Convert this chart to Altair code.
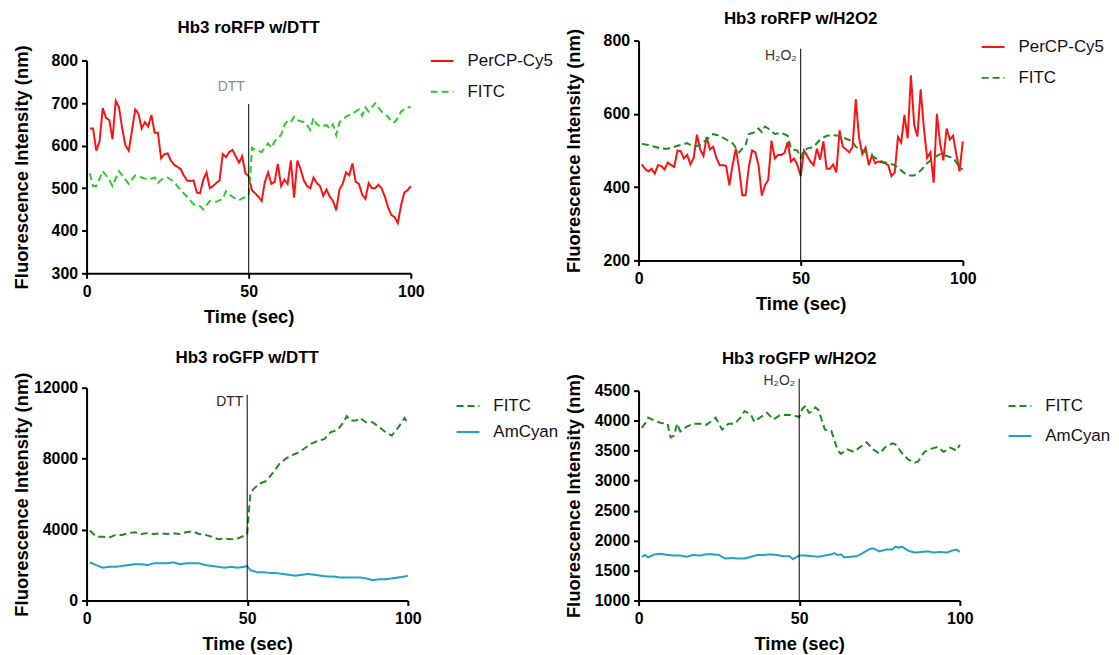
import altair as alt
import pandas as pd

FONT = "Liberation Sans"

# ---------------- data ----------------
t_full = list(range(1, 101))

# Panel 1: Hb3 roRFP w/DTT
p1_red_t = t_full
p1_red_v = [640, 640, 588, 610, 688, 665, 660, 615, 705, 690,
            640, 600, 588, 635, 685, 675, 640, 655, 645, 672,
            630, 630, 570, 580, 582, 565, 555, 550, 545, 530,
            518, 517, 518, 490, 488, 520, 537, 500, 505, 512,
            518, 580, 573, 585, 590, 575, 560, 575, 535, 528,
            495, 488, 480, 470, 515, 537, 510, 515, 557, 505,
            520, 510, 565, 478, 565, 545, 518, 505, 500, 525,
            512, 505, 482, 497, 480, 470, 448, 497, 510, 537,
            530, 558, 515, 510, 485, 475, 512, 500, 500, 508,
            500, 480, 455, 437, 432, 418, 460, 490, 495, 505]
p1_green_t = [1, 2, 3, 5, 7, 8, 10, 12, 13, 15,
              17, 19, 21, 22, 23, 25, 27, 29, 31, 33,
              35, 36, 38, 40, 42, 43, 44, 46, 47, 49,
              50, 50.5, 51, 52, 54, 56, 57, 58, 60, 61,
              62, 63, 64, 65, 67, 68, 69, 70, 71, 72,
              74, 75, 76, 77, 78, 80, 82, 84, 85, 86,
              87, 89, 90, 91, 93, 94, 95, 96, 97, 99, 100]
p1_green_v = [535, 505, 505, 540, 520, 505, 540, 520, 510, 530,
              525, 520, 525, 512, 520, 525, 515, 495, 480, 462,
              458, 450, 470, 468, 475, 493, 485, 475, 472, 480,
              485, 530, 595, 590, 585, 605, 595, 610, 625, 648,
              658, 655, 668, 660, 655, 648, 637, 665, 650, 645,
              648, 640, 650, 625, 655, 668, 675, 685, 670, 690,
              680, 700, 690, 680, 668, 655, 655, 665, 680, 690, 690]

# Panel 2: Hb3 roRFP w/H2O2
p2_red_t = t_full
p2_red_v = [462, 450, 443, 450, 437, 460, 458, 448, 467, 460,
            455, 500, 498, 478, 488, 462, 480, 543, 503, 485,
            537, 503, 510, 480, 460, 460, 458, 405, 460, 505,
            450, 378, 378, 455, 500, 495, 460, 377, 405, 420,
            527, 478, 488, 488, 493, 523, 470, 478, 460, 430,
            500, 485, 470, 460, 505, 475, 525, 450, 450, 462,
            440, 555, 510, 503, 495, 510, 640, 535, 490, 508,
            460, 487, 465, 470, 468, 465, 460, 430, 440, 537,
            522, 597, 533, 705, 570, 538, 667, 560, 480, 495,
            412, 600, 520, 473, 560, 530, 540, 490, 443, 525]
p2_green_t = [1, 3, 5, 7, 9, 11, 13, 15, 17, 19,
              21, 23, 25, 27, 29, 31, 33, 34, 36, 37,
              38, 39, 40, 42, 44, 46, 47, 49, 50, 51,
              52, 54, 56, 58, 60, 62, 64, 66, 67, 69,
              71, 73, 75, 77, 79, 81, 83, 85, 87, 89,
              91, 93, 95, 97, 99, 100]
p2_green_v = [518, 515, 510, 505, 505, 510, 515, 520, 510, 515,
              530, 545, 540, 530, 520, 495, 515, 545, 550, 560,
              550, 565, 560, 545, 548, 540, 505, 500, 480, 500,
              505, 510, 530, 540, 542, 540, 532, 525, 510, 500,
              490, 480, 470, 465, 460, 445, 432, 432, 445, 465,
              480, 490, 485, 480, 455, 448]

# Panel 3: Hb3 roGFP w/DTT
p3_fitc_t = [1, 3, 5, 7, 9, 11, 13, 15, 17, 19,
             21, 23, 25, 27, 29, 31, 33, 35, 37, 39,
             41, 43, 45, 47, 49, 50, 50.5, 51, 52, 54,
             56, 58, 60, 62, 64, 66, 68, 70, 72, 74,
             76, 78, 80, 81, 82, 84, 85, 87, 89, 91,
             93, 95, 97, 99, 100]
p3_fitc_v = [3950, 3600, 3600, 3550, 3700, 3700, 3800, 3850, 3750, 3800,
             3750, 3800, 3750, 3800, 3750, 3850, 3900, 3750, 3700, 3600,
             3450, 3500, 3450, 3500, 3650, 3750, 5000, 6000, 6300, 6600,
             6750, 7200, 7700, 8000, 8200, 8350, 8600, 8850, 9000, 9100,
             9500, 9600, 10050, 10400, 10150, 10150, 10300, 10050, 10050, 9800,
             9500, 9300, 9750, 10300, 9950]
p3_amcyan_t = [1, 3, 5, 7, 9, 11, 13, 15, 17, 19,
               21, 23, 25, 27, 29, 31, 33, 35, 37, 39,
               41, 43, 45, 47, 49, 50, 51, 53, 55, 57,
               59, 61, 63, 65, 67, 69, 71, 73, 75, 77,
               79, 81, 83, 85, 87, 89, 91, 93, 95, 97, 99, 100]
p3_amcyan_v = [2150, 2000, 1850, 1900, 1900, 1950, 2000, 2050, 2050, 2000,
               2100, 2100, 2100, 2150, 2050, 2100, 2100, 2100, 2000, 1950,
               1900, 1850, 1900, 1850, 1900, 1950, 1700, 1600, 1600, 1550,
               1550, 1500, 1450, 1400, 1450, 1500, 1450, 1400, 1350, 1350,
               1300, 1300, 1300, 1300, 1250, 1150, 1200, 1200, 1250, 1300, 1350, 1400]

# Panel 4: Hb3 roGFP w/H2O2
p4_fitc_t = [1, 2, 3, 5, 7, 9, 10, 11, 12, 13,
             15, 17, 19, 21, 23, 24, 26, 28, 30, 32,
             33, 35, 36, 38, 40, 42, 44, 46, 48, 50,
             51, 52, 53, 54, 55, 56, 58, 60, 62, 63,
             65, 67, 69, 71, 73, 75, 77, 79, 80, 82,
             84, 86, 87, 89, 91, 93, 95, 97, 99, 100]
p4_fitc_v = [3880, 3950, 4050, 4000, 3960, 3950, 3720, 3750, 3950, 3820,
             3900, 3950, 3950, 3930, 4000, 4050, 3850, 3950, 3950, 4070,
             4160, 4100, 3980, 4060, 4130, 4020, 4090, 4100, 4090, 4060,
             4200, 4250, 4130, 4150, 4220, 4180, 3850, 3830, 3500, 3450,
             3520, 3480, 3560, 3640, 3520, 3450, 3570, 3620, 3600, 3460,
             3350, 3300, 3320, 3480, 3530, 3560, 3480, 3550, 3500, 3600]
p4_amcyan_t = [1, 2, 3, 5, 7, 9, 11, 13, 15, 17,
               19, 21, 23, 25, 27, 29, 31, 33, 35, 37,
               39, 41, 43, 45, 47, 48, 50, 52, 54, 56,
               58, 60, 61, 62, 63, 64, 66, 68, 70, 72,
               73, 75, 77, 79, 80, 81, 82, 84, 86, 88,
               90, 92, 94, 96, 98, 99, 100]
p4_amcyan_v = [1730, 1760, 1720, 1770, 1780, 1760, 1750, 1750, 1730, 1760,
               1750, 1770, 1770, 1760, 1700, 1710, 1700, 1700, 1730, 1760,
               1760, 1770, 1760, 1740, 1740, 1690, 1750, 1750, 1740, 1730,
               1750, 1770, 1790, 1760, 1770, 1720, 1730, 1740, 1800, 1860,
               1870, 1820, 1850, 1850, 1900, 1880, 1900, 1830, 1800, 1810,
               1820, 1800, 1810, 1800, 1840, 1850, 1810]

titles = ["Hb3 roRFP w/DTT", "Hb3 roRFP w/H2O2", "Hb3 roGFP w/DTT", "Hb3 roGFP w/H2O2"]
y_title = "Fluorescence Intensity (nm)"
x_title = "Time (sec)"

RED = "#ff1111"
LIGHT_GREEN = "#2ecc2e"
DARK_GREEN = "#1f8c1f"
CYAN = "#22a3c6"
SOLID = [1, 0]
DASH = [7, 4]


def panel(series, title, title_offset, y_domain, y_ticks, width, height, y_range,
          legend_x, legend_y, legend_rowpad, rule_top, label_text, label_y, label_color):
    rows = []
    for name, ts, vs, _, _ in series:
        for t, v in zip(ts, vs):
            rows.append({"t": t, "v": v, "s": name})
    df = pd.DataFrame(rows)
    names = [s[0] for s in series]
    colors = [s[3] for s in series]
    dashes = [s[4] for s in series]

    x_enc = alt.X("t:Q", scale=alt.Scale(domain=[0, 100], nice=False),
                  axis=alt.Axis(values=[0, 50, 100], title=x_title, labelFlush=False))
    y_enc = alt.Y("v:Q", scale=alt.Scale(domain=y_domain, range=y_range, nice=False, zero=False),
                  axis=alt.Axis(values=y_ticks, title=y_title, format="d", labelFlush=False))
    leg = alt.Legend(orient="none", legendX=legend_x, legendY=legend_y, title=None,
                     symbolType="stroke", symbolSize=529, symbolStrokeWidth=2,
                     labelFont=FONT, labelFontSize=17, labelColor="#111",
                     labelOffset=13, rowPadding=legend_rowpad, padding=0)

    lines = alt.Chart(df).mark_line(strokeWidth=2).encode(
        x=x_enc, y=y_enc,
        color=alt.Color("s:N", scale=alt.Scale(domain=names, range=colors), legend=leg),
        strokeDash=alt.StrokeDash("s:N", scale=alt.Scale(domain=names, range=dashes), legend=leg),
    )
    rule_df = pd.DataFrame({"t": [50], "v": [rule_top], "v2": [y_domain[0]]})
    rule = alt.Chart(rule_df).mark_rule(color="black", strokeWidth=1).encode(
        x=x_enc, y=y_enc, y2="v2:Q")
    lab_df = pd.DataFrame({"t": [50], "v": [label_y], "lab": [label_text]})
    label = alt.Chart(lab_df).mark_text(align="right", baseline="alphabetic", dx=-4,
                                        font=FONT, fontSize=14, color=label_color).encode(
        x=x_enc, y=y_enc, text="lab:N")
    return alt.layer(lines, rule, label).properties(
        width=width, height=height,
        title=alt.TitleParams(title, font=FONT, fontSize=17, fontWeight="bold",
                              color="black", anchor="middle", offset=title_offset),
    )


p1 = panel([("PerCP-Cy5", p1_red_t, p1_red_v, RED, SOLID),
            ("FITC", p1_green_t, p1_green_v, LIGHT_GREEN, DASH)],
           titles[0], -4, [300, 800], [300, 400, 500, 600, 700, 800], 326, 242, [242, 28],
           345, 16, 10, 698, "DTT", 729, "#8c8c8c")
p2 = panel([("PerCP-Cy5", p2_red_t, p2_red_v, RED, SOLID),
            ("FITC", p2_green_t, p2_green_v, DARK_GREEN, DASH)],
           titles[1], 0, [200, 800], [200, 400, 600, 800], 326, 229, [229, 8],
           344, 2, 10, 778, "H\u2082O\u2082", 748, "#333333")
p3 = panel([("FITC", p3_fitc_t, p3_fitc_v, DARK_GREEN, DASH),
            ("AmCyan", p3_amcyan_t, p3_amcyan_v, CYAN, SOLID)],
           titles[2], 5, [0, 12000], [0, 4000, 8000, 12000], 323, 225, [225, 11],
           371, 17, 5, 11600, "DTT", 10990, "#222222")
p4 = panel([("FITC", p4_fitc_t, p4_fitc_v, DARK_GREEN, DASH),
            ("AmCyan", p4_amcyan_t, p4_amcyan_v, CYAN, SOLID)],
           titles[3], 5, [1000, 4500], [1000, 1500, 2000, 2500, 3000, 3500, 4000, 4500], 323, 225,
           [225, 14], 371, 17, 9, 4700, "H\u2082O\u2082", 4590, "#333333")

chart = alt.concat(
    p1, p2, p3, p4, columns=2, bounds="flush",
    spacing=alt.RowColnumber(row=104, column=229),
).resolve_scale(
    color="independent", strokeDash="independent", x="independent", y="independent"
).configure_view(stroke=None).configure_axis(
    domainColor="black", domainWidth=2, tickColor="black", tickWidth=2, tickSize=5,
    labelFont=FONT, labelFontSize=16, labelFontWeight="bold", labelColor="black",
    titleFont=FONT, titleFontSize=18.5, titleFontWeight="bold", titleColor="black",
    grid=False, labelPadding=5, titlePadding=8,
).configure_axisY(labelPadding=4, titleX=-55).properties(
    padding={"left": 4, "top": 0, "right": 0, "bottom": 0}
)

chart.save("out.html", embed_options={"renderer": "svg", "actions": False})
